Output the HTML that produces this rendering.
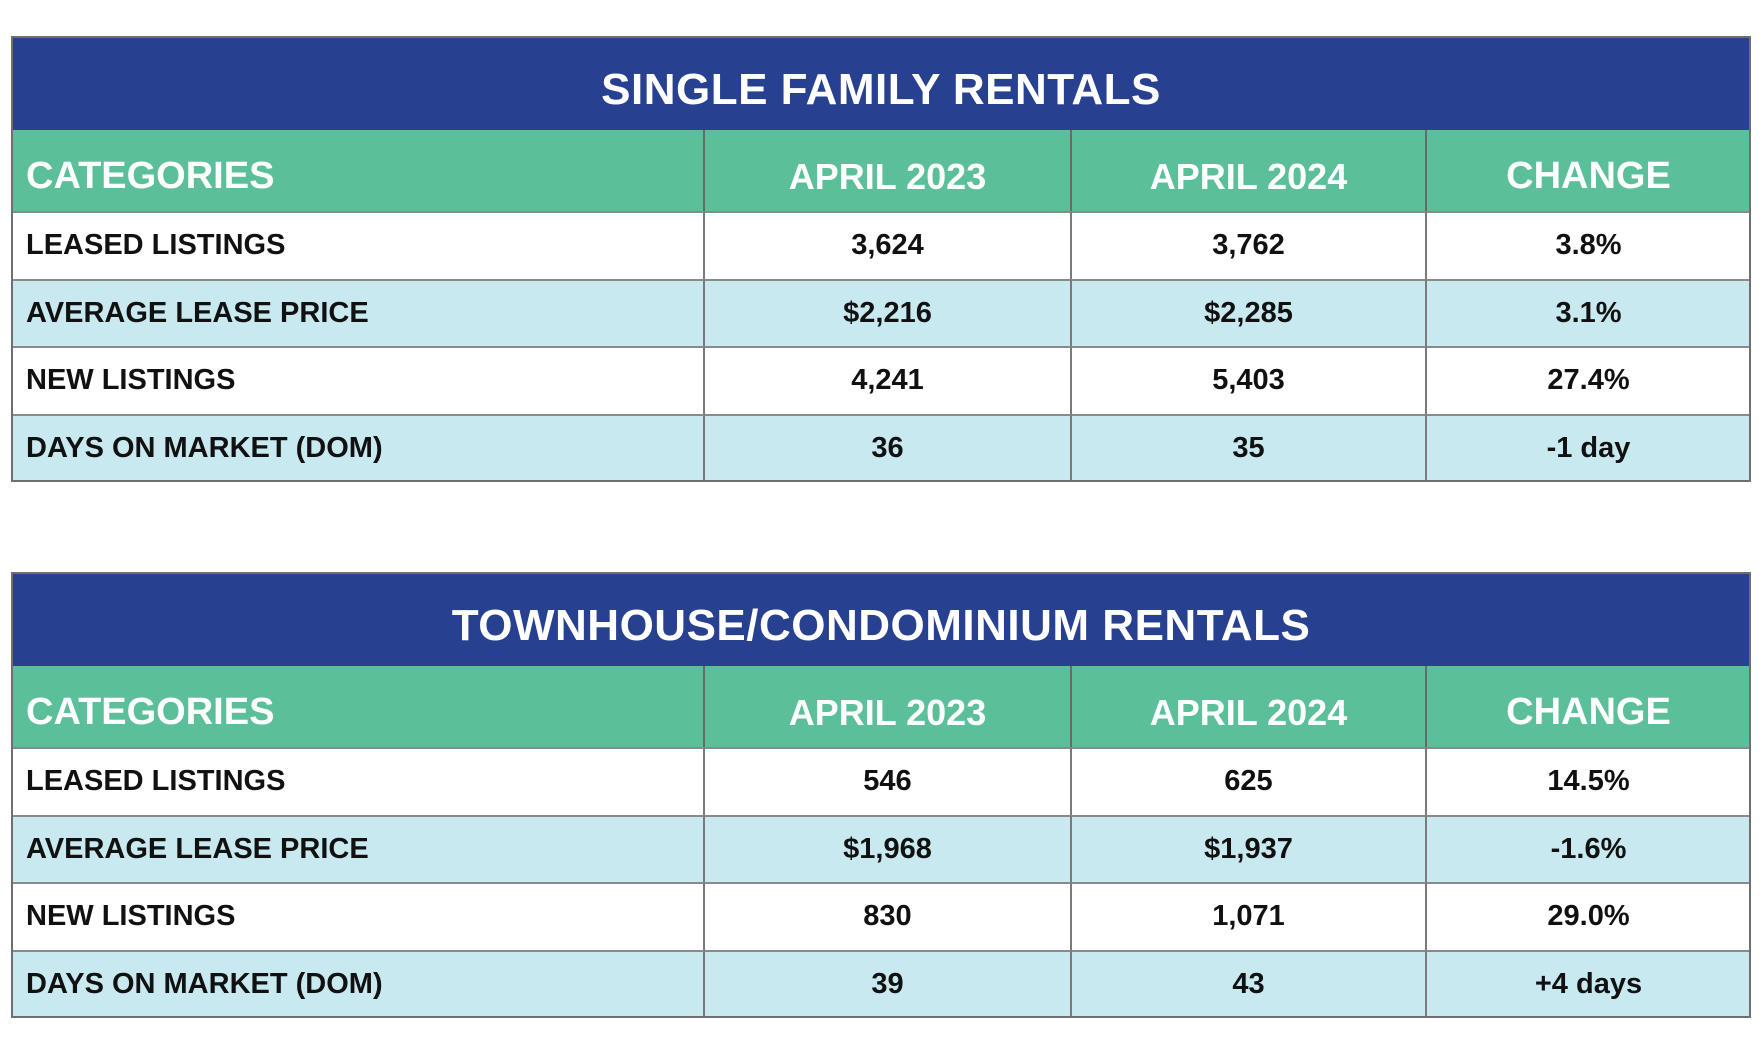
<!DOCTYPE html>
<html><head><meta charset="utf-8">
<style>
html,body{margin:0;padding:0;background:#fff;width:1763px;height:1058px;overflow:hidden;position:relative;font-family:"Liberation Sans",Arial,sans-serif;}
.cell{position:absolute;box-sizing:border-box;display:flex;align-items:center;justify-content:center;font-weight:bold;}
.title{background:#27408f;color:#fff;font-size:44px;letter-spacing:0.5px;padding-top:14px;}
.head{background:#5bbf9a;color:#fff;font-size:36px;padding-top:12px;border-right:2px solid #6a6a6a;}
.body{color:#111;font-size:29px;border-right:2px solid #7a7a7a;border-top:2px solid #8a8a8a;}
.left{justify-content:flex-start;padding-left:14px;}
.frame{position:absolute;box-sizing:border-box;border:2px solid #6f6f6f;pointer-events:none;}
</style></head>
<body>
<div id="root"></div>
<script>
const columns = ["CATEGORIES","APRIL 2023","APRIL 2024","CHANGE"];
const categories = ["LEASED LISTINGS","AVERAGE LEASE PRICE","NEW LISTINGS","DAYS ON MARKET (DOM)"];
const sfTitle = "SINGLE FAMILY RENTALS";
const sf2023 = ["3,624","$2,216","4,241","36"];
const sf2024 = ["3,762","$2,285","5,403","35"];
const sfChange = ["3.8%","3.1%","27.4%","-1 day"];
const thTitle = "TOWNHOUSE/CONDOMINIUM RENTALS";
const th2023 = ["546","$1,968","830","39"];
const th2024 = ["625","$1,937","1,071","43"];
const thChange = ["14.5%","-1.6%","29.0%","+4 days"];

const colX = [12,705,1072,1427,1750];
const root = document.getElementById('root');
function mk(cls, x, y, w, h, txt){
  const d = document.createElement('div');
  d.className = 'cell ' + cls;
  d.style.left = x+'px'; d.style.top = y+'px'; d.style.width = w+'px'; d.style.height = h+'px';
  d.textContent = txt;
  root.appendChild(d);
  return d;
}
function table(top, title, a, b, c, key){
  const t = mk('title', colX[0], top, colX[4]-colX[0], 94, title);
  
  
  const hTop = top+94, hH = 81;
  columns.forEach((col,i)=>{
    const h = mk('head'+(i===0?' left':''), colX[i], hTop, colX[i+1]-colX[i], hH, col);
    if(i===3){h.style.borderRight='none';h.style.fontSize='38px';}
    if(i===0){h.style.fontSize='38px';}
    
    
  });
  const rTop = hTop+hH, rH = 67.5;
  categories.forEach((cat,r)=>{
    const vals = [cat, a[r], b[r], c[r]];
    const bg = r%2 ? '#c8e9ef' : '#ffffff';
    vals.forEach((v,i)=>{
      const d = mk('body'+(i===0?' left':''), colX[i], rTop+r*rH, colX[i+1]-colX[i], rH, v);
      d.style.background = bg;
      if(i===3) d.style.borderRight='none';
      
      
    });
  });
  const f = document.createElement('div');
  f.className = 'frame';
  f.style.left = (colX[0]-1)+'px'; f.style.top = top+'px';
  f.style.width = (colX[4]-colX[0]+2)+'px'; f.style.height = (rTop+4*rH-top+1)+'px';
  
  
  root.appendChild(f);
}
table(36, sfTitle, sf2023, sf2024, sfChange, 'single-family');
table(572, thTitle, th2023, th2024, thChange, 'townhouse-condo');
</script>
</body></html>
